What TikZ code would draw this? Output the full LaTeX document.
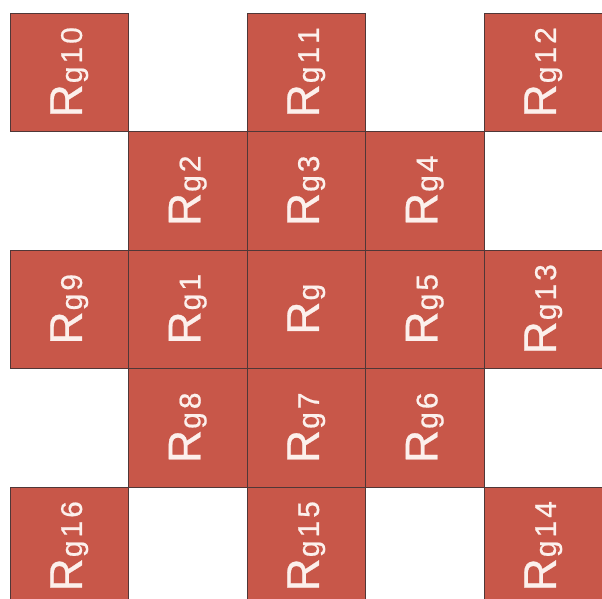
\documentclass[tikz,border=0pt]{standalone}
\usepackage{fontspec}
\setmainfont{Liberation Sans}[FakeBold=0.6]
\definecolor{cellred}{RGB}{200,87,73}
\definecolor{cellline}{RGB}{80,55,55}
\definecolor{labwhite}{RGB}{252,240,236}
\newcommand{\lab}[1]{R{\fontsize{30}{30}\selectfont\kern1pt g#1}}
\newcommand{\sk}{\kern3pt}
\begin{document}
\begin{tikzpicture}[x=1pt,y=1pt,
  cell/.style={fill=cellred, draw=cellline, line width=0.9pt, minimum size=118.5pt,
    inner sep=0pt, outer sep=0pt, rotate=90, text=labwhite,
    font=\fontsize{46}{46}\selectfont}]
\useasboundingbox (0,0) rectangle (602,598);
\clip (0,0) rectangle (602,598);
\node[cell] (g10) at (69.25,525.75) {\lab{\sk1\sk0}};
\node[cell] (g11) at (306.25,525.75) {\lab{\sk1\sk1}};
\node[cell] (g12) at (543.25,525.75) {\lab{\sk1\sk2}};
\node[cell] (g2) at (187.75,407.25) {\lab{\sk2}};
\node[cell] (g3) at (306.25,407.25) {\lab{\sk3}};
\node[cell] (g4) at (424.75,407.25) {\lab{\sk4}};
\node[cell] (g9) at (69.25,288.75) {\lab{\sk9}};
\node[cell] (g1) at (187.75,288.75) {\lab{\sk1}};
\node[cell] (g0) at (306.25,288.75) {\lab{}};
\node[cell] (g5) at (424.75,288.75) {\lab{\sk5}};
\node[cell] (g13) at (543.25,288.75) {\lab{\sk1\sk3}};
\node[cell] (g8) at (187.75,170.25) {\lab{\sk8}};
\node[cell] (g7) at (306.25,170.25) {\lab{\sk7}};
\node[cell] (g6) at (424.75,170.25) {\lab{\sk6}};
\node[cell] (g16) at (69.25,51.75) {\lab{\sk1\sk6}};
\node[cell] (g15) at (306.25,51.75) {\lab{\sk1\sk5}};
\node[cell] (g14) at (543.25,51.75) {\lab{\sk1\sk4}};
\end{tikzpicture}
\end{document}
